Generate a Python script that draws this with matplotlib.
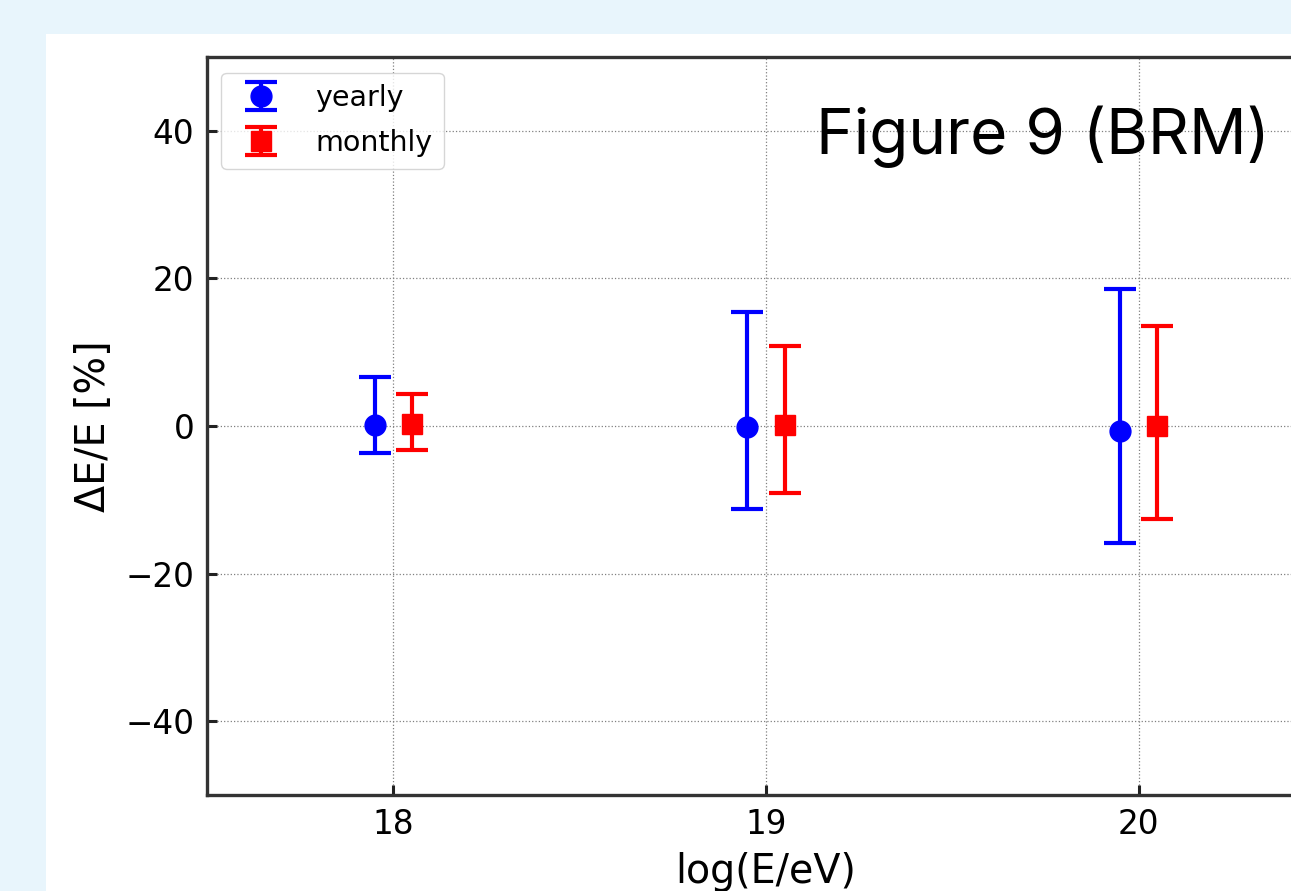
import numpy as np
import matplotlib; matplotlib.use("Agg")
import matplotlib.pyplot as plt
from matplotlib.patches import Rectangle

# energy bins and relative energy shifts (percent)
logE = [18, 19, 20]
yearly_mean = [0.1, -0.1, -0.7]
yearly_up = [6.6, 15.4, 18.5]
yearly_lo = [-3.6, -11.2, -15.9]
monthly_mean = [0.3, 0.2, 0.0]
monthly_up = [4.4, 10.9, 13.5]
monthly_lo = [-3.2, -9.1, -12.6]

plt.rcParams["font.family"] = "DejaVu Sans"

x = np.array(logE, float)
ym = np.array(yearly_mean); mm = np.array(monthly_mean)
yerr_y = [ym - np.array(yearly_lo), np.array(yearly_up) - ym]
yerr_m = [mm - np.array(monthly_lo), np.array(monthly_up) - mm]

fig = plt.figure(figsize=(12.91, 8.91), dpi=100)
fig.patch.set_facecolor("#e8f5fc")
fig.patches.append(Rectangle((46/1291, 0), 1, 1 - 34/891, transform=fig.transFigure,
                             facecolor="white", edgecolor="none", zorder=-5))

ax = fig.add_axes([207/1291, 1 - 795/891, 1118/1291, 738/891])
ax.set_facecolor("white")
kw = dict(elinewidth=3.0, capthick=3.0, capsize=11.5, ms=15, ls="none")
ax.errorbar(x - 0.05, ym, yerr=yerr_y, fmt="o", color="blue", label="yearly", **kw)
ax.errorbar(x + 0.05, mm, yerr=yerr_m, fmt="s", color="red", label="monthly", **kw)

ax.set_xlim(17.5, 20.5); ax.set_ylim(-50, 50)
ax.set_xticks(logE); ax.set_yticks([-40, -20, 0, 20, 40])
ax.grid(True, ls=":", color="gray", lw=0.9)
ax.tick_params(direction="in", length=7, width=2.2, labelsize=23.5, pad=9,
               colors="#222222", labelcolor="black")
for s in ax.spines.values():
    s.set_linewidth(2.4); s.set_color("#333333")
ax.set_xlabel("log(E/eV)", fontsize=28.5, labelpad=8)
ax.set_ylabel("ΔE/E [%]", fontsize=28.5, labelpad=8.5)
ax.legend(loc="upper left", fontsize=20.5, fancybox=True, framealpha=0.8,
          borderpad=0.4, labelspacing=0.6, handletextpad=0.9,
          bbox_to_anchor=(0.0, 0.998))

fig.text(816/1291, 1 - 154/891, "Figure 9 (BRM)", fontsize=46, family="Inter",
         va="baseline", ha="left")

fig.savefig("out.png", dpi=100, facecolor=fig.get_facecolor())
